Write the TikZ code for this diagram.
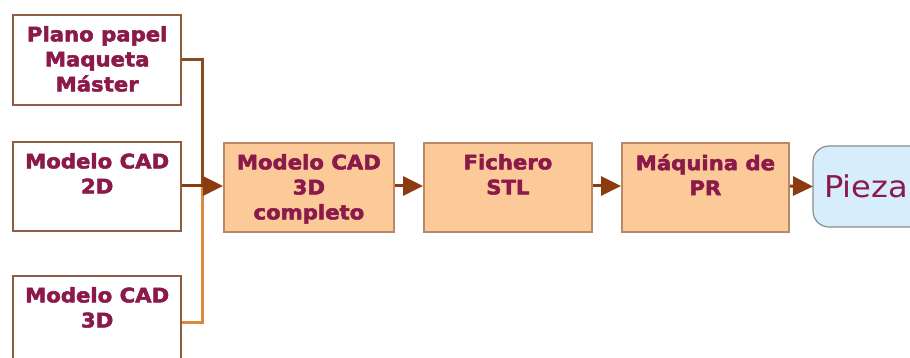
\documentclass[tikz,border=0pt]{standalone}
\usepackage{fontspec}
\setmainfont{DejaVu Sans}
\newfontfamily\boxfont[FakeStretch=1.06,FakeBold=2.5]{DejaVu Sans Bold}
\newfontfamily\endfont[FakeStretch=1.07]{DejaVu Sans}
\usetikzlibrary{arrows.meta}
\definecolor{txtred}{HTML}{8B1A4B}
\definecolor{frame}{HTML}{8E5E44}
\definecolor{stepfill}{HTML}{FCC998}
\definecolor{stepframe}{HTML}{B88868}
\definecolor{arrowbrown}{HTML}{8C3B10}
\definecolor{linetop}{HTML}{8B4A1E}
\definecolor{linebottom}{HTML}{D98A3C}
\definecolor{piezafill}{HTML}{D6EEFB}
\definecolor{piezaframe}{HTML}{8C8C8C}
\tikzset{
  srcbox/.style={draw=frame, line width=2.4pt, fill=white, minimum width=168pt, inner sep=0pt, anchor=north west},
  stepbox/.style={draw=stepframe, line width=1.8pt, fill=stepfill, minimum width=170pt, minimum height=89pt, inner sep=0pt, anchor=north west},
  lbl/.style={anchor=north, align=center, text=txtred, font=\boxfont\fontsize{20}{25}\selectfont, inner sep=0pt},
  flow/.style={draw=arrowbrown, line width=3pt, -{Triangle[length=20pt,width=19pt]}, arrowbrown},
}
\begin{document}
\begin{tikzpicture}[x=1pt,y=-1pt]
\useasboundingbox (0,0) rectangle (910,358);
\clip (0,0) rectangle (910,358);

% source boxes on the left
\node[srcbox, minimum height=90pt] (b1) at (12,14) {};
\node[srcbox, minimum height=89pt] (b2) at (12,141) {};
\node[srcbox, minimum height=94pt] (b3) at (12,275) {};
\node[lbl] at ([yshift=-12pt]b1.north) {Plano papel\\Maqueta\\Máster};
\node[lbl] at ([yshift=-12pt]b2.north) {Modelo CAD\\2D};
\node[lbl] at ([yshift=-12pt]b3.north) {Modelo CAD\\3D};

% process steps
\node[stepbox] (s1) at (223,142) {};
\node[stepbox, minimum width=168pt] (s2) at (423,142) {};
\node[stepbox, minimum width=167pt] (s3) at (621,142) {};
\node[lbl] at ([yshift=-12pt]s1.north) {Modelo CAD\\3D\\completo};
\node[lbl] at ([yshift=-12pt]s2.north) {Fichero\\STL};
\node[lbl] at ([yshift=-12pt]s3.north) {Máquina de\\PR};

% final result
\draw[draw=piezaframe, fill=piezafill, line width=1.2pt, rounded corners=16pt]
  (813,146) rectangle (940,227);
\node[anchor=west, text=txtred, font=\endfont\fontsize{30}{34}\selectfont, inner sep=0pt] (p) at (824,186.5) {Pieza};
\coordinate (pw) at (813,186.5);

% merging connectors
\coordinate (join) at (202,186);
\draw[linetop, line width=3pt] (b1.east |- 0,60) -| (join);
\draw[linebottom, line width=3pt] (b3.east |- 0,322) -| (join);
\draw[flow] (b2.east |- 0,186) -- (s1.west |- 0,186);

% chain of steps
\draw[flow] (s1.east |- 0,186) -- (s2.west |- 0,186);
\draw[flow] (s2.east |- 0,186) -- (s3.west |- 0,186);
\draw[flow] (s3.east |- 0,186) -- (pw);
\end{tikzpicture}
\end{document}
